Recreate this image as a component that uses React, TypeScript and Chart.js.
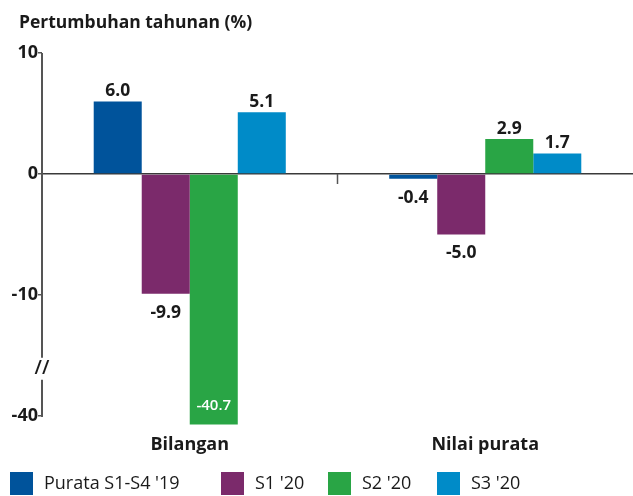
import React, { useEffect, useRef } from 'react';
import { Chart, registerables } from 'chart.js';

Chart.register(...registerables);

// ---- data ----
const categories = ['Bilangan', 'Nilai purata'];
const seriesNames = ["Purata S1-S4 '19", "S1 '20", "S2 '20", "S3 '20"];
const avg2019 = [6.0, -0.4];
const s1_2020 = [-9.9, -5.0];
const s2_2020 = [-40.7, 2.9];
const s3_2020 = [5.1, 1.7];
const yTickValues = [10, 0, -10, -40];
const titleText = 'Pertumbuhan tahunan (%)';

const seriesValues = [avg2019, s1_2020, s2_2020, s3_2020];
const seriesColors = ['#00539B', '#7B2A6B', '#29A545', '#008BC8'];

// ---- broken axis mapping (upper segment identity, lower segment shifted up) ----
const BREAK_AXIS = -16; // axis position of the break
const BREAK_SHIFT = 20;
const toAxis = (v: number) => (v < BREAK_AXIS - BREAK_SHIFT ? v + BREAK_SHIFT : v);
const fromAxis = (p: number) => (p < BREAK_AXIS ? p - BREAK_SHIFT : p);

const FONT = "'Open Sans', 'Noto Sans', sans-serif";
const TEXT = '#1a1a1a';
const AXIS = '#555555';

const decorPlugin = {
  id: 'decor',
  beforeDatasetsDraw(chart: any) {
    const { ctx, chartArea, scales } = chart;
    const y = scales.y;
    const x = scales.x;
    ctx.save();
    // y axis line with break
    ctx.strokeStyle = AXIS;
    ctx.lineWidth = 2;
    const ax = chartArea.left;
    ctx.beginPath();
    ctx.moveTo(ax, y.getPixelForValue(10));
    ctx.lineTo(ax, y.getPixelForValue(BREAK_AXIS + 0.8));
    ctx.moveTo(ax, y.getPixelForValue(BREAK_AXIS - 1));
    ctx.lineTo(ax, y.getPixelForValue(toAxis(-40)) + 1);
    ctx.stroke();
    // break symbol
    ctx.fillStyle = TEXT;
    ctx.font = `600 19px ${FONT}`;
    ctx.textAlign = 'center';
    ctx.textBaseline = 'middle';
    ctx.fillText('//', ax, y.getPixelForValue(BREAK_AXIS - 0.1));
    // category divider tick on zero line
    const mid = (x.getPixelForValue(0) + x.getPixelForValue(1)) / 2;
    const y0 = y.getPixelForValue(0);
    ctx.lineWidth = 1.5;
    ctx.beginPath();
    ctx.moveTo(mid, y0);
    ctx.lineTo(mid, y0 + 10);
    ctx.stroke();
    ctx.restore();
  },
  afterDatasetsDraw(chart: any) {
    const { ctx } = chart;
    ctx.save();
    chart.data.datasets.forEach((ds: any, di: number) => {
      const meta = chart.getDatasetMeta(di);
      meta.data.forEach((bar: any, i: number) => {
        const v = seriesValues[di][i];
        const label = v.toFixed(1);
        ctx.textAlign = 'center';
        ctx.textBaseline = 'alphabetic';
        if (v < BREAK_AXIS) {
          ctx.fillStyle = '#ffffff';
          ctx.font = `600 15px ${FONT}`;
          ctx.fillText(label, bar.x, bar.y - 14);
        } else if (v >= 0) {
          ctx.fillStyle = TEXT;
          ctx.font = `700 17.5px ${FONT}`;
          ctx.fillText(label, bar.x, bar.y - 5);
        } else {
          ctx.fillStyle = TEXT;
          ctx.font = `700 17.5px ${FONT}`;
          ctx.fillText(label, bar.x, bar.y + 24);
        }
      });
    });
    ctx.restore();
  },
  afterDraw(chart: any) {
    const { ctx } = chart;
    ctx.save();
    // title
    ctx.fillStyle = TEXT;
    ctx.font = `700 17.5px ${FONT}`;
    ctx.textAlign = 'left';
    ctx.textBaseline = 'alphabetic';
    ctx.fillText(titleText, 19, 27.5);
    // legend
    const legendX = [10, 221, 328, 437];
    const boxTop = 472;
    const box = 23;
    ctx.font = `400 18px ${FONT}`;
    ctx.textBaseline = 'middle';
    chart.data.datasets.forEach((ds: any, di: number) => {
      const lx = legendX[di];
      ctx.fillStyle = ds.backgroundColor;
      ctx.fillRect(lx, boxTop, box, box);
      ctx.fillStyle = TEXT;
      ctx.fillText(ds.label, lx + 34, boxTop + box / 2 + 0.5);
    });
    ctx.restore();
  },
};

export default function App() {
  const canvasRef = useRef<HTMLCanvasElement | null>(null);

  useEffect(() => {
    document.body.style.margin = '0';
    const canvas = canvasRef.current;
    if (!canvas) return;
    const allValues = seriesValues.flat();
    const yMin = toAxis(Math.min(...allValues));

    const chart = new Chart(canvas, {
      type: 'bar',
      data: {
        labels: categories,
        datasets: seriesNames.map((name, i) => ({
          label: name,
          data: seriesValues[i].map(toAxis),
          backgroundColor: seriesColors[i],
          borderWidth: 0,
          categoryPercentage: 0.65,
          barPercentage: 1.0,
          clip: false as any,
        })),
      },
      options: {
        animation: false,
        responsive: true,
        maintainAspectRatio: false,
        layout: { padding: { top: 53, bottom: 30, left: 0, right: 0 } },
        plugins: {
          legend: { display: false },
          title: { display: false },
          tooltip: { enabled: false },
        },
        scales: {
          x: {
            grid: { display: false, drawTicks: false },
            border: { display: false },
            ticks: {
              color: TEXT,
              padding: 10,
              font: { family: FONT, size: 18, weight: 'bold' },
            },
          },
          y: {
            min: yMin,
            max: 10,
            afterFit: (scale: any) => {
              scale.width = 42;
            },
            afterBuildTicks: (scale: any) => {
              scale.ticks = yTickValues.map((v) => ({ value: toAxis(v) }));
            },
            border: { display: false },
            grid: {
              color: (c: any) => (c.tick && c.tick.value === 0 ? '#3a3a3a' : 'rgba(0,0,0,0)'),
              lineWidth: 1.5,
              tickColor: AXIS,
              tickWidth: 1.5,
              tickLength: 4,
              drawTicks: true,
            },
            ticks: {
              color: TEXT,
              padding: 0,
              font: { family: FONT, size: 18, weight: 'bold' },
              callback: (value: any) => String(fromAxis(Number(value))),
            },
          },
        },
      },
      plugins: [decorPlugin],
    });
    return () => chart.destroy();
  }, []);

  return (
    <div style={{ width: 633, height: 496, position: 'relative' }}>
      <canvas ref={canvasRef} />
    </div>
  );
}
